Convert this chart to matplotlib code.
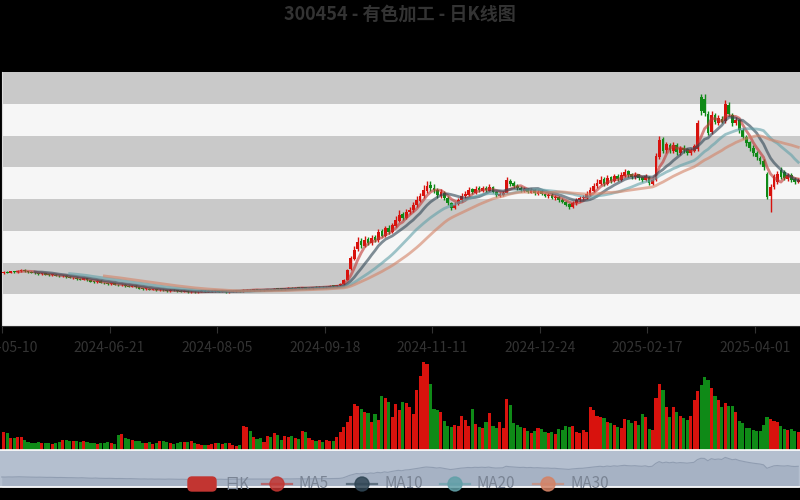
import numpy as np
import pandas as pd
import matplotlib
matplotlib.use("Agg")
import matplotlib.pyplot as plt
from matplotlib.patches import FancyBboxPatch, Circle
from matplotlib.lines import Line2D
from matplotlib.transforms import IdentityTransform

plt.rcParams['font.family'] = ['Noto Sans CJK SC', 'DejaVu Sans']

title = "300454 - 有色加工 - 日K线图"
legend_names = ["日K", "MA5", "MA10", "MA20", "MA30"]

tick_labels = ["2024-05-10", "2024-06-21", "2024-08-05", "2024-09-18",
               "2024-11-11", "2024-12-24", "2025-02-17", "2025-04-01"]

opens = [
    13.3, 13.5, 13.4, 13.6, 13.5, 13.6, 13.8, 13.6, 13.5, 13.4,
    13.3, 13.2, 13.3, 13.1, 13.0, 13.1, 12.9, 12.8, 12.9, 12.7,
    12.5, 12.6, 12.4, 12.3, 12.5, 12.2, 12.0, 11.9, 12.1, 11.8,
    11.7, 11.6, 11.7, 11.5, 11.4, 11.5, 11.3, 11.2, 11.3, 11.1,
    10.9, 10.8, 10.9, 10.7, 10.8, 10.6, 10.7, 10.6, 10.5, 10.7,
    10.6, 10.5, 10.4, 10.5, 10.3, 10.4, 10.3, 10.4, 10.5, 10.4,
    10.4, 10.5, 10.6, 10.4, 10.5, 10.3, 10.4, 10.5, 10.6, 10.5,
    10.6, 10.7, 10.6, 10.8, 10.7, 10.6, 10.7, 10.8, 10.7, 10.9,
    10.9, 10.8, 10.9, 11.0, 10.9, 11.1, 11.0, 11.1, 10.9, 11.0,
    11.2, 11.1, 11.2, 11.1, 11.2, 11.4, 11.3, 11.4,
    11.6, 12.3, 13.9, 15.6, 17.2, 18.4, 17.6, 18.7, 18.0, 19.0,
    18.5, 19.9, 19.1, 20.5, 19.8, 20.8, 21.6, 22.6, 22.0, 22.9,
    23.2, 24.0, 24.7, 25.4, 26.3, 27.2, 26.8, 26.4, 25.5, 26.0,
    25.2, 24.3, 23.6, 24.2, 24.8, 25.4, 25.7, 26.5, 26.0, 26.7,
    26.3, 26.8, 26.3, 26.9, 26.1, 25.5, 25.7, 26.0, 27.9, 27.5,
    27.1, 26.8, 26.3, 26.6, 26.0, 26.4, 25.8, 26.2, 25.8, 25.4,
    25.7, 25.1, 25.3, 24.9, 24.5, 24.2, 23.8, 24.3, 24.8, 25.1,
    25.2, 25.7, 26.3, 27.1, 27.4, 28.1, 27.4, 28.4, 27.8, 28.7,
    28.0, 28.7, 29.4, 28.9, 28.4, 28.9, 28.4, 28.0, 28.5, 27.4,
    28.0, 31.6, 34.4, 32.7, 33.5, 32.6, 33.5, 32.3, 33.1, 32.8,
    32.2, 32.6, 32.8, 41.0, 40.8, 38.4, 35.5, 38.2, 37.0, 37.6,
    37.3, 39.8, 38.3, 37.0, 37.4, 35.9, 34.7, 33.9, 33.1, 32.3,
    31.5, 31.0, 29.0, 25.4, 26.9, 27.6, 29.6, 29.2, 28.2, 28.8,
    28.1, 27.7,
]

closes = [
    13.5, 13.4, 13.6, 13.5, 13.7, 13.8, 13.6, 13.5, 13.4, 13.3,
    13.2, 13.3, 13.1, 13.0, 13.1, 12.9, 12.8, 12.9, 12.7, 12.6,
    12.6, 12.4, 12.3, 12.5, 12.2, 12.0, 11.9, 12.1, 11.8, 11.7,
    11.6, 11.7, 11.5, 11.4, 11.5, 11.3, 11.2, 11.3, 11.1, 10.9,
    10.8, 10.9, 10.7, 10.8, 10.6, 10.7, 10.6, 10.5, 10.7, 10.6,
    10.5, 10.4, 10.5, 10.3, 10.4, 10.3, 10.4, 10.5, 10.4, 10.5,
    10.5, 10.6, 10.4, 10.5, 10.3, 10.4, 10.5, 10.6, 10.5, 10.7,
    10.7, 10.6, 10.8, 10.7, 10.6, 10.7, 10.8, 10.7, 10.9, 10.8,
    10.8, 10.9, 11.0, 10.9, 11.0, 11.0, 11.1, 10.9, 11.0, 11.1,
    11.1, 11.2, 11.1, 11.2, 11.3, 11.3, 11.4, 11.6,
    12.2, 13.8, 15.7, 17.0, 18.2, 17.8, 18.5, 18.1, 18.9, 18.5,
    19.8, 19.2, 20.4, 19.8, 20.9, 21.7, 22.5, 22.0, 23.0, 23.3,
    24.1, 24.8, 25.5, 26.4, 27.0, 26.7, 26.4, 25.6, 26.1, 25.2,
    24.4, 23.6, 24.1, 24.8, 25.5, 25.8, 26.4, 26.1, 26.6, 26.4,
    26.7, 26.4, 26.9, 26.1, 25.6, 25.8, 25.9, 28.0, 27.4, 27.0,
    26.7, 26.4, 26.6, 26.1, 26.4, 25.9, 26.1, 25.8, 25.5, 25.6,
    25.2, 25.3, 24.8, 24.5, 24.1, 23.8, 24.4, 24.8, 25.2, 25.3,
    25.8, 26.4, 27.0, 27.5, 28.0, 27.4, 28.3, 27.8, 28.6, 28.1,
    28.8, 29.3, 28.8, 28.5, 28.8, 28.3, 28.0, 28.6, 27.5, 28.0,
    31.8, 34.3, 32.6, 33.6, 32.7, 33.5, 32.4, 33.0, 32.7, 32.2,
    32.7, 33.3, 37.0, 38.8, 38.6, 35.4, 38.3, 37.2, 37.8, 37.2,
    40.0, 38.4, 36.9, 37.5, 35.8, 34.8, 33.8, 33.0, 32.2, 31.6,
    31.0, 30.0, 25.3, 26.9, 28.6, 29.0, 28.5, 28.3, 28.8, 28.0,
    27.7, 28.0,
]

highs = [
    13.6, 13.6, 13.7, 13.7, 13.8, 13.9, 13.9, 13.7, 13.6, 13.5,
    13.4, 13.4, 13.4, 13.2, 13.2, 13.2, 13.0, 13.0, 13.0, 12.8,
    12.7, 12.7, 12.5, 12.6, 12.6, 12.3, 12.1, 12.2, 12.2, 11.9,
    11.8, 11.8, 11.8, 11.6, 11.6, 11.6, 11.4, 11.4, 11.4, 11.2,
    11.0, 11.0, 11.0, 10.9, 10.9, 10.8, 10.8, 10.7, 10.8, 10.8,
    10.7, 10.6, 10.6, 10.6, 10.5, 10.5, 10.5, 10.6, 10.6, 10.6,
    10.6, 10.7, 10.7, 10.6, 10.6, 10.5, 10.6, 10.7, 10.7, 10.8,
    10.8, 10.8, 10.9, 10.9, 10.8, 10.8, 10.9, 10.9, 11.0, 11.0,
    11.0, 11.0, 11.1, 11.1, 11.1, 11.2, 11.2, 11.2, 11.1, 11.2,
    11.3, 11.3, 11.3, 11.3, 11.4, 11.5, 11.5, 11.7,
    12.4, 14.0, 16.0, 17.6, 19.0, 18.9, 19.2, 19.0, 19.3, 19.4,
    20.3, 20.2, 20.8, 20.9, 21.2, 22.3, 23.2, 23.0, 23.4, 23.8,
    24.5, 25.4, 26.0, 27.2, 27.9, 27.8, 27.3, 26.7, 26.5, 26.3,
    25.4, 24.5, 24.5, 25.1, 25.9, 26.2, 26.9, 26.8, 27.0, 27.0,
    27.1, 27.0, 27.3, 27.1, 26.3, 26.1, 26.2, 28.5, 28.2, 27.8,
    27.3, 27.0, 26.9, 26.8, 26.7, 26.6, 26.4, 26.4, 26.0, 25.9,
    25.9, 25.6, 25.5, 25.1, 24.7, 24.4, 24.7, 25.2, 25.5, 25.7,
    26.2, 26.9, 27.5, 28.1, 28.6, 28.4, 28.8, 28.7, 29.0, 28.9,
    29.2, 29.8, 29.6, 29.1, 29.2, 29.0, 28.6, 28.9, 28.7, 28.3,
    32.2, 34.9, 34.8, 34.0, 33.8, 34.0, 33.8, 33.4, 33.5, 33.0,
    33.1, 33.7, 37.5, 41.6, 41.5, 38.8, 38.8, 38.6, 38.2, 38.0,
    40.6, 40.2, 38.6, 37.9, 37.6, 36.2, 35.0, 34.2, 33.5, 32.6,
    31.8, 31.3, 29.3, 27.3, 29.0, 29.4, 30.0, 29.5, 29.1, 29.1,
    28.4, 28.3,
]

lows = [
    13.2, 13.3, 13.3, 13.4, 13.4, 13.5, 13.5, 13.4, 13.3, 13.2,
    13.1, 13.1, 13.0, 12.9, 12.9, 12.8, 12.7, 12.7, 12.6, 12.5,
    12.4, 12.3, 12.2, 12.2, 12.1, 11.9, 11.8, 11.8, 11.7, 11.6,
    11.5, 11.5, 11.4, 11.3, 11.3, 11.2, 11.1, 11.1, 11.0, 10.8,
    10.7, 10.7, 10.6, 10.6, 10.5, 10.5, 10.5, 10.4, 10.4, 10.5,
    10.4, 10.3, 10.3, 10.2, 10.2, 10.2, 10.2, 10.3, 10.3, 10.3,
    10.3, 10.4, 10.3, 10.3, 10.2, 10.2, 10.3, 10.4, 10.4, 10.4,
    10.5, 10.5, 10.5, 10.6, 10.5, 10.5, 10.6, 10.6, 10.6, 10.7,
    10.7, 10.7, 10.8, 10.8, 10.8, 10.9, 10.9, 10.8, 10.8, 10.9,
    11.0, 11.0, 11.0, 11.0, 11.1, 11.2, 11.2, 11.3,
    11.5, 12.2, 13.8, 15.4, 16.8, 17.3, 17.4, 17.8, 17.8, 18.2,
    18.3, 19.0, 19.0, 19.5, 19.6, 20.6, 21.4, 21.7, 21.8, 22.6,
    23.0, 23.8, 24.5, 25.2, 26.0, 26.3, 26.0, 25.2, 25.2, 24.9,
    24.0, 23.2, 23.4, 24.0, 24.6, 25.2, 25.5, 25.8, 25.8, 26.1,
    26.1, 26.1, 26.2, 25.9, 25.3, 25.3, 25.5, 25.9, 27.0, 26.7,
    26.4, 26.1, 26.1, 25.9, 25.9, 25.7, 25.6, 25.6, 25.3, 25.2,
    25.0, 24.9, 24.6, 24.3, 23.9, 23.5, 23.6, 24.1, 24.6, 24.9,
    25.0, 25.5, 26.1, 26.8, 27.2, 27.1, 27.2, 27.5, 27.6, 27.9,
    27.8, 28.5, 28.5, 28.2, 28.2, 28.0, 27.7, 27.8, 27.2, 27.2,
    27.8, 31.3, 32.2, 32.3, 32.2, 32.3, 32.0, 32.0, 32.3, 31.9,
    32.0, 32.4, 32.5, 38.2, 38.0, 35.0, 35.2, 36.8, 36.6, 36.9,
    37.0, 38.0, 36.5, 36.6, 35.4, 34.4, 33.4, 32.6, 31.8, 31.2,
    30.5, 29.6, 25.0, 22.9, 26.6, 27.3, 28.2, 28.0, 27.9, 27.7,
    27.4, 27.5,
]

volumes = [
    18, 17, 12, 12, 13, 13, 10, 8, 7, 7,
    8, 7, 7, 7, 6, 7, 8, 10, 10, 9,
    9, 9, 8, 9, 8, 7, 7, 6, 7, 7,
    8, 7, 6, 15, 16, 12, 11, 10, 9, 9,
    7, 7, 8, 6, 7, 9, 9, 8, 7, 6,
    7, 8, 8, 8, 9, 7, 6, 5, 5, 5,
    6, 7, 7, 6, 7, 7, 5, 4, 5, 24,
    23, 19, 13, 11, 12, 8, 14, 13, 17, 15,
    10, 14, 13, 14, 12, 11, 19, 18, 12, 10,
    9, 10, 8, 10, 9, 9, 13, 18, 23, 28,
    34, 46, 44, 41, 38, 37, 28, 36, 30, 54,
    52, 48, 33, 46, 40, 48, 47, 43, 36, 60,
    74, 88, 86, 66, 41, 40, 38, 29, 24, 23,
    25, 24, 34, 30, 24, 41, 26, 23, 22, 28,
    37, 24, 22, 28, 22, 51, 45, 27, 25, 23,
    22, 19, 17, 19, 22, 21, 18, 17, 18, 16,
    21, 20, 24, 23, 24, 18, 17, 20, 18, 43,
    40, 34, 33, 32, 28, 27, 25, 23, 22, 31,
    30, 27, 29, 25, 36, 33, 21, 20, 52, 66,
    60, 43, 33, 43, 38, 34, 32, 30, 34, 50,
    59, 65, 73, 70, 62, 54, 50, 43, 47, 44,
    44, 38, 29, 27, 22, 22, 20, 19, 19, 25,
    33, 31, 29, 28, 24, 21, 20, 21, 19, 18,
]

ma_windows = [5, 10, 20, 30]
ma_colors = ['#c23531', '#2f4554', '#61a0a8', '#d48265']
up_color = '#d8120d'
down_color = '#0f8a17'

o = np.array(opens)
c = np.array(closes)
h = np.array(highs)
l = np.array(lows)
v = np.array(volumes)
n = len(c)
x = np.arange(n)
up = c >= o
colors = np.where(up, up_color, down_color)

fig = plt.figure(figsize=(8, 5), dpi=100)
fig.patch.set_facecolor('black')

# main k-line panel
ax = fig.add_axes([0.0025, 0.348, 0.9975, 0.508])
ax.set_xlim(-0.5, n - 0.5)
ax.set_ylim(5, 45)
band_colors = ['#f6f6f6', '#c9c9c9']
for k, y0 in enumerate(range(5, 45, 5)):
    ax.axhspan(y0, y0 + 5, color=band_colors[k % 2], zorder=0, lw=0)

ax.vlines(x, l, h, colors=colors, lw=1.0, zorder=2)
body_bottom = np.minimum(o, c)
body_h = np.maximum(np.abs(c - o), 0.12)
ax.bar(x, body_h, bottom=body_bottom, width=0.8, color=colors, zorder=3, lw=0)

s = pd.Series(c)
for w, col in zip(ma_windows, ma_colors):
    ma = s.rolling(w).mean()
    ax.plot(x, ma, color=col, lw=2.0, alpha=0.6, zorder=4)

# one date label every 31 trading days
tick_pos = np.arange(0, n, 31)[:len(tick_labels)]
ax.set_xticks(tick_pos - 0.5)
ax.set_xticklabels(tick_labels, fontsize=10, color='#333333')
ax.tick_params(axis='x', length=5, color='#333333', pad=6)
ax.set_yticks([])
for sp in ['top', 'right']:
    ax.spines[sp].set_visible(False)
ax.spines['bottom'].set_color('#333333')
ax.spines['left'].set_color('#dddddd')
ax.set_facecolor('black')

# volume panel
axv = fig.add_axes([0.0025, 0.1, 0.9975, 0.19])
axv.set_xlim(-0.5, n - 0.5)
axv.set_ylim(0, 95)
axv.bar(x, v, width=0.9, color=colors, lw=0)
axv.set_facecolor('black')
axv.set_xticks([])
axv.set_yticks([])
for sp in axv.spines.values():
    sp.set_visible(False)

# data zoom slider
axs = fig.add_axes([0.0, 0.026, 1.0, 0.074])
axs.set_xlim(-0.5, n - 0.5)
axs.set_ylim(0, 50)
axs.set_facecolor('#b4bfcf')
axs.fill_between(x, 0, c, color='#a6b2c4', lw=0)
axs.plot(x, c, color='#909db1', lw=0.8)
axs.set_xticks([])
axs.set_yticks([])
for sp in ['left', 'right']:
    axs.spines[sp].set_visible(False)
for sp in ['top', 'bottom']:
    axs.spines[sp].set_color('white')
    axs.spines[sp].set_linewidth(1.2)

fig.text(0.5, 0.972, title, ha='center', va='center', fontsize=13,
         fontweight='bold', color='#333333')

# legend, drawn in pixel coordinates
tr = IdentityTransform()
ly = 500 - 484
fig.patches.append(FancyBboxPatch((188, ly - 7), 28, 14, boxstyle='round,pad=0,rounding_size=4',
                                  transform=tr, color='#c23531', figure=fig))
fig.text(224 / 800, ly / 500, legend_names[0], ha='left', va='center', fontsize=11, color='#7a8494')
icon_x = [277, 362, 455, 548]
for name, col, cx in zip(legend_names[1:], ma_colors, icon_x):
    fig.lines.append(Line2D([cx - 15, cx + 15], [ly, ly], transform=tr, color=col,
                            lw=1.6, alpha=0.6, figure=fig))
    fig.patches.append(Circle((cx, ly), 7, transform=tr, color=col, alpha=0.85, figure=fig))
    fig.text((cx + 22) / 800, ly / 500, name, ha='left', va='center', fontsize=11, color='#7a8494')

fig.savefig('out.png', dpi=100, facecolor=fig.get_facecolor())
